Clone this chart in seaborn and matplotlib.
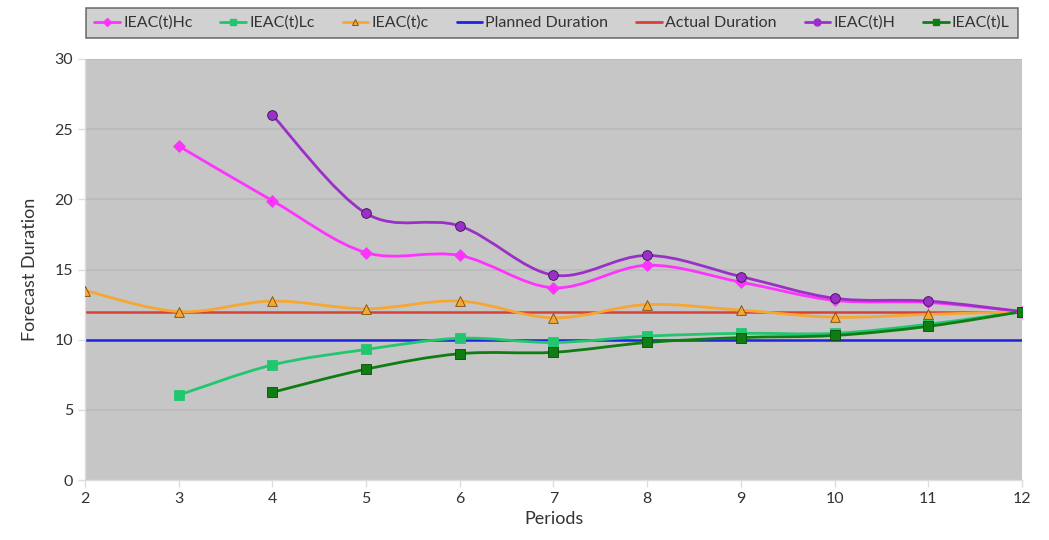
import numpy as np
import pandas as pd
import matplotlib
matplotlib.use("Agg")
import matplotlib.pyplot as plt
import seaborn as sns
from matplotlib.path import Path
from matplotlib.patches import PathPatch
from matplotlib.lines import Line2D

# Data

periods_hc = [3, 4, 5, 6, 7, 8, 9, 10, 11, 12]
ieac_hc = [23.8, 19.9, 16.2, 16.0, 13.7, 15.3, 14.1, 12.8, 12.65, 12.0]

periods_lc = [3, 4, 5, 6, 7, 8, 9, 10, 11, 12]
ieac_lc = [6.05, 8.2, 9.3, 10.1, 9.8, 10.25, 10.45, 10.45, 11.1, 12.0]

periods_c = [2, 3, 4, 5, 6, 7, 8, 9, 10, 11, 12]
ieac_c = [13.5, 12.0, 12.75, 12.2, 12.75, 11.55, 12.5, 12.1, 11.6, 11.8, 12.0]

periods_h = [4, 5, 6, 7, 8, 9, 10, 11, 12]
ieac_h = [26.0, 19.0, 18.1, 14.6, 16.0, 14.5, 12.95, 12.75, 12.0]

periods_l = [4, 5, 6, 7, 8, 9, 10, 11, 12]
ieac_l = [6.25, 7.9, 9.0, 9.1, 9.8, 10.15, 10.3, 10.95, 12.0]

planned_duration = 10
actual_duration = 12

x_ticks = list(range(2, 13))
y_ticks = [0, 5, 10, 15, 20, 25, 30]

# Style

sns.set_theme(style="white")
plt.rcParams["font.family"] = ["Lato", "DejaVu Sans"]

fig = plt.figure(figsize=(10.49, 5.40), dpi=100)
ax = fig.add_axes([85 / 1049, 1 - 480 / 540, (1022 - 85) / 1049, (480 - 59) / 540])

bg = "#c6c6c6"
ax.set_facecolor(bg)

for y in y_ticks[1:]:
    ax.axhline(y, color="#b9b9b9", lw=1.2, zorder=0)


def smooth_path(xs, ys):
    # Excel-style smoothed line as cubic Bezier segments
    pts = np.column_stack([xs, ys]).astype(float)
    n = len(pts)
    verts = [pts[0]]
    codes = [Path.MOVETO]
    for i in range(n - 1):
        p0 = pts[i - 1] if i > 0 else pts[i]
        p1 = pts[i]
        p2 = pts[i + 1]
        p3 = pts[i + 2] if i + 2 < n else pts[i + 1]
        c1 = p1 + (p2 - p0) / 6
        c2 = p2 - (p3 - p1) / 6
        verts += [c1, c2, p2]
        codes += [Path.CURVE4] * 3
    return Path(verts, codes)


series = [
    ("IEAC(t)Hc", periods_hc, ieac_hc, "#ff33ff", "D", 6, "#ff33ff"),
    ("IEAC(t)Lc", periods_lc, ieac_lc, "#22c66f", "s", 7, "#22c66f"),
    ("IEAC(t)c", periods_c, ieac_c, "#f6a733", "^", 7, "#7a4a00"),
    ("IEAC(t)H", periods_h, ieac_h, "#9b30c8", "o", 7, "#3a1050"),
    ("IEAC(t)L", periods_l, ieac_l, "#0f7d12", "s", 7, "#0a4a0a"),
]

ax.axhline(planned_duration, color="#1f22e0", lw=1.8, zorder=2)
ax.axhline(actual_duration, color="#d8403a", lw=1.8, zorder=2)

for name, xs, ys, color, marker, ms, edge in series:
    ax.add_patch(PathPatch(smooth_path(xs, ys), facecolor="none",
                           edgecolor=color, lw=2, zorder=3))
    df = pd.DataFrame({"x": xs, "y": ys})
    sns.scatterplot(data=df, x="x", y="y", ax=ax, marker=marker, s=ms ** 2,
                    color=color, edgecolor=edge, linewidth=0.6, zorder=4)

ax.set_xlim(2, 12)
ax.set_ylim(0, 30)
ax.set_xticks(x_ticks)
ax.set_yticks(y_ticks)
ax.tick_params(axis="both", which="both", labelsize=11.5, colors="#dddddd",
               labelcolor="#333333", length=5, width=1, direction="out",
               left=True, bottom=True)
for side in ["top", "right"]:
    ax.spines[side].set_visible(False)
for side in ["left", "bottom"]:
    ax.spines[side].set_color("#dddddd")
    ax.spines[side].set_linewidth(1)

ax.set_xlabel("Periods", fontsize=13, color="#333333", labelpad=4)
ax.set_ylabel("Forecast Duration", fontsize=13, color="#333333", labelpad=12)

# Legend

handles = [
    Line2D([], [], color="#ff33ff", marker="D", ms=4, lw=2),
    Line2D([], [], color="#22c66f", marker="s", ms=5, lw=2),
    Line2D([], [], color="#f6a733", marker="^", ms=5, mec="#7a4a00", mew=0.6, lw=2),
    Line2D([], [], color="#1f22e0", lw=2),
    Line2D([], [], color="#d8403a", lw=2),
    Line2D([], [], color="#9b30c8", marker="o", ms=5, lw=2),
    Line2D([], [], color="#0f7d12", marker="s", ms=5, lw=2),
]
labels = ["IEAC(t)Hc", "IEAC(t)Lc", "IEAC(t)c", "Planned Duration",
          "Actual Duration", "IEAC(t)H", "IEAC(t)L"]
leg = fig.legend(handles, labels, loc="center", ncol=7,
                 bbox_to_anchor=(552 / 1049, 1 - 23 / 540),
                 fontsize=11.5, frameon=True, fancybox=False,
                 handlelength=1.6, handletextpad=0.2, columnspacing=1.75,
                 borderpad=0.5)
leg.get_frame().set_facecolor(bg)
leg.get_frame().set_edgecolor("#555555")
leg.get_frame().set_linewidth(1.2)
for t in leg.get_texts():
    t.set_color("#333333")

fig.savefig("out.png", dpi=100)
